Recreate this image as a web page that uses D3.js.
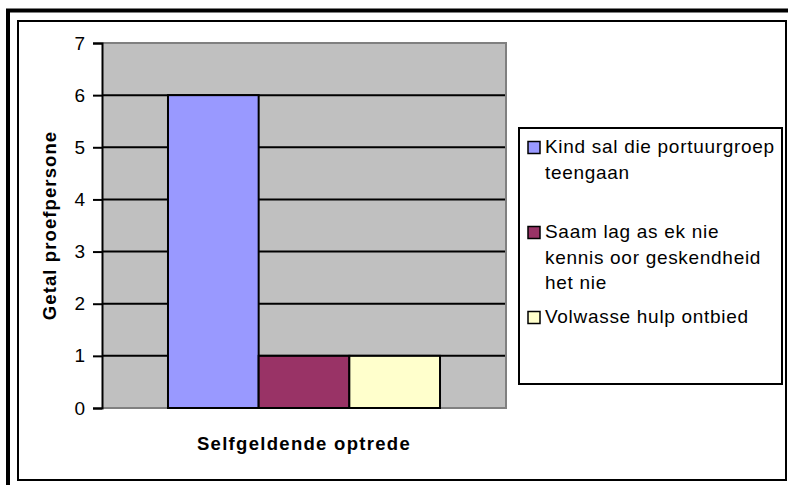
<!DOCTYPE html>
<html>
<head>
<meta charset="utf-8">
<script src="https://cdn.jsdelivr.net/npm/d3@7"></script>
<style>
  body { margin: 0; background: #ffffff; }
  svg { display: block; font-family: Arial, "Liberation Sans", sans-serif; }
</style>
</head>
<body>
<svg id="chart" width="788" height="485"></svg>
<script>
// Data
const categories = ['Selfgeldende optrede'];
const seriesNames = [
    ['Kind sal die portuurgroep', 'teengaan'],
    ['Saam lag as ek nie', 'kennis oor geskendheid', 'het nie'],
    ['Volwasse hulp ontbied']
];
const seriesValues = [6, 1, 1];
const seriesColors = ['#9999ff', '#993366', '#ffffcc'];
const yTicks = [0, 1, 2, 3, 4, 5, 6, 7];

function drawChart() {
    const svg = d3.select('#chart');
    svg.selectAll('*').remove();

    // Frame borders
    svg.append('rect')
        .attr('x', 8).attr('y', 10.5)
        .attr('width', 800).attr('height', 500)
        .attr('fill', 'none')
        .attr('stroke', '#000')
        .attr('stroke-width', 4);
    svg.append('rect')
        .attr('x', 18).attr('y', 21)
        .attr('width', 768).attr('height', 459)
        .attr('fill', '#fff')
        .attr('stroke', '#000')
        .attr('stroke-width', 2);

    const plot = { left: 102, top: 43, right: 506, bottom: 408 };

    const x = d3.scaleBand()
        .domain(categories)
        .range([plot.left, plot.right])
        .paddingOuter(0.2426);

    const xSeries = d3.scaleBand()
        .domain(d3.range(seriesValues.length))
        .range([0, x.bandwidth()]);

    const y = d3.scaleLinear()
        .domain([0, 7])
        .range([plot.bottom, plot.top]);

    // Plot background
    svg.append('rect')
        .attr('x', plot.left).attr('y', plot.top)
        .attr('width', plot.right - plot.left)
        .attr('height', plot.bottom - plot.top)
        .attr('fill', '#c0c0c0');

    // Gridlines
    svg.append('g')
        .selectAll('line')
        .data(yTicks.filter(d => d > 0 && d < 7))
        .enter()
        .append('line')
        .attr('x1', plot.left).attr('x2', plot.right)
        .attr('y1', d => y(d)).attr('y2', d => y(d))
        .attr('stroke', '#000')
        .attr('stroke-width', 2);

    // Plot border (gray)
    svg.append('path')
        .attr('d', `M${plot.left},${plot.top}H${plot.right}V${plot.bottom}H${plot.left}`)
        .attr('fill', 'none')
        .attr('stroke', '#808080')
        .attr('stroke-width', 2);

    // Bars
    svg.append('g')
        .selectAll('rect')
        .data(seriesValues)
        .enter()
        .append('rect')
        .attr('x', (d, i) => x(categories[0]) + xSeries(i))
        .attr('y', d => y(d))
        .attr('width', xSeries.bandwidth())
        .attr('height', d => y(0) - y(d))
        .attr('fill', (d, i) => seriesColors[i])
        .attr('stroke', '#000')
        .attr('stroke-width', 2);

    // Y axis
    const yAxis = svg.append('g')
        .attr('transform', `translate(${plot.left},0)`)
        .call(d3.axisLeft(y).tickValues(yTicks).tickSize(9).tickPadding(8).tickFormat(d3.format('d')));
    yAxis.select('.domain').attr('stroke', '#000').attr('stroke-width', 2);
    yAxis.selectAll('.tick line').attr('stroke', '#000').attr('stroke-width', 2);
    yAxis.selectAll('.tick text')
        .style('font-family', 'Arial, "Liberation Sans", sans-serif')
        .style('font-size', '19px')
        .attr('fill', '#000');

    // X axis title
    svg.append('text')
        .attr('x', x(categories[0]) + x.bandwidth() / 2)
        .attr('y', 450)
        .attr('text-anchor', 'middle')
        .style('font-size', '18.5px')
        .style('font-weight', 'bold')
        .style('letter-spacing', '1.3px')
        .text(categories[0]);

    // Y axis title
    svg.append('text')
        .attr('transform', 'rotate(-90)')
        .attr('x', -(plot.top + plot.bottom) / 2)
        .attr('y', 56)
        .attr('text-anchor', 'middle')
        .style('font-size', '18.5px')
        .style('font-weight', 'bold')
        .style('letter-spacing', '1.1px')
        .text('Getal proefpersone');

    // Legend
    svg.append('rect')
        .attr('x', 519).attr('y', 128)
        .attr('width', 263).attr('height', 256)
        .attr('fill', '#fff')
        .attr('stroke', '#000')
        .attr('stroke-width', 2);

    const legend = svg.append('g')
        .selectAll('g')
        .data(seriesNames)
        .enter()
        .append('g')
        .attr('transform', (d, i) => `translate(528,${153 + i * 85})`);

    legend.append('rect')
        .attr('x', 0).attr('y', -11.5)
        .attr('width', 12).attr('height', 12)
        .attr('fill', (d, i) => seriesColors[i])
        .attr('stroke', '#000')
        .attr('stroke-width', 1.5);

    legend.append('text')
        .style('font-size', '19px')
        .style('letter-spacing', '0.7px')
        .selectAll('tspan')
        .data(d => d)
        .enter()
        .append('tspan')
        .attr('x', 17)
        .attr('y', (d, i) => i * 25.5)
        .text(d => d);
}

drawChart();
</script>
</body>
</html>
